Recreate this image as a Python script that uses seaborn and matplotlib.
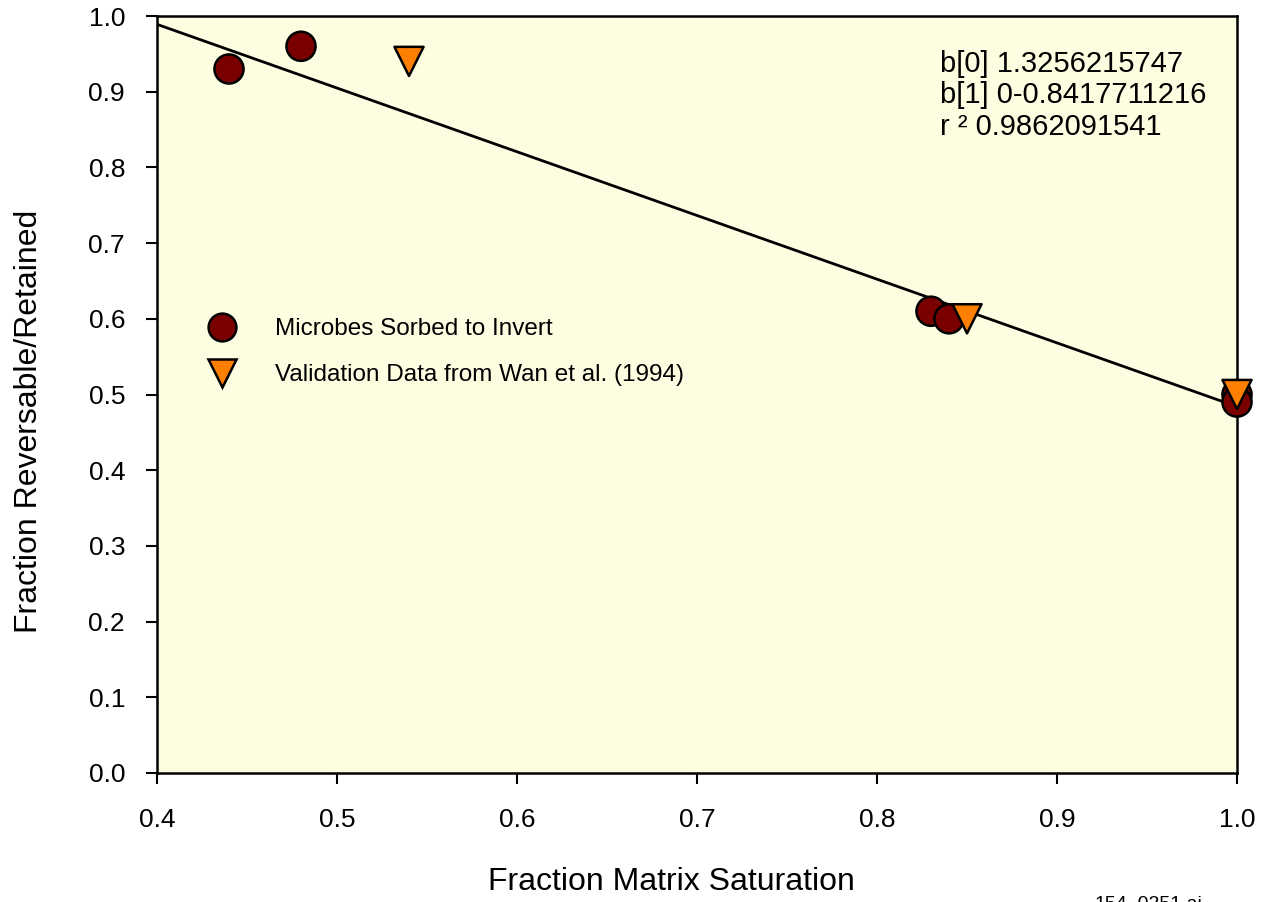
import pandas as pd
import matplotlib
matplotlib.use("Agg")
import matplotlib.pyplot as plt
import seaborn as sns

# data
microbe_x = [0.44, 0.48, 0.83, 0.84, 1.0, 1.0]
microbe_y = [0.93, 0.96, 0.61, 0.60, 0.50, 0.49]
wan_x = [0.54, 0.85, 1.0]
wan_y = [0.94, 0.60, 0.50]
fit_x = [0.4, 1.0]
fit_y = [0.989, 0.484]
series_names = ["Microbes Sorbed to Invert", "Validation Data from Wan et al. (1994)"]
fit_text = "b[0] 1.3256215747\nb[1] 0-0.8417711216\nr \u00b2 0.9862091541"
x_ticks = [0.4, 0.5, 0.6, 0.7, 0.8, 0.9, 1.0]
y_ticks = [0.0, 0.1, 0.2, 0.3, 0.4, 0.5, 0.6, 0.7, 0.8, 0.9, 1.0]

df = pd.DataFrame({
    "x": microbe_x + wan_x,
    "y": microbe_y + wan_y,
    "series": [series_names[0]] * len(microbe_x) + [series_names[1]] * len(wan_x),
})

sns.set_theme(style="ticks")
plt.rcParams["font.family"] = ["Liberation Sans", "DejaVu Sans"]
plt.rcParams["text.color"] = "black"
plt.rcParams["axes.labelcolor"] = "black"
plt.rcParams["xtick.color"] = "black"
plt.rcParams["ytick.color"] = "black"

fig = plt.figure(figsize=(12.65, 9.02), dpi=100)
ax = fig.add_axes([157 / 1265, 1 - 773 / 902, 1080 / 1265, 757 / 902])
ax.set_facecolor("#FDFDE1")

# fit line
sns.lineplot(x=fit_x, y=fit_y, color="black", linewidth=2.0, ax=ax, zorder=3)

palette = {series_names[0]: "#7A0000", series_names[1]: "#FF8000"}
markers = {series_names[0]: "o", series_names[1]: "v"}
sns.scatterplot(data=df, x="x", y="y", hue="series", style="series",
                palette=palette, markers=markers, s=440,
                edgecolor="black", linewidth=1.8, ax=ax, zorder=4)
for c in ax.collections:
    c.set_clip_on(False)

ax.set_xlim(0.4, 1.0)
ax.set_ylim(0.0, 1.0)
ax.set_xticks(x_ticks)
ax.set_yticks(y_ticks)
ax.set_xticklabels([f"{v:.1f}" for v in x_ticks])
ax.set_yticklabels([f"{v:.1f}" for v in y_ticks])
ax.tick_params(axis="both", direction="out", length=8, width=1.5, colors="black", labelsize=19)
ax.tick_params(axis="x", pad=17)
ax.tick_params(axis="y", pad=15)
for sp in ax.spines.values():
    sp.set_visible(True)
    sp.set_color("black")
    sp.set_linewidth(1.8)

ax.set_xlabel("Fraction Matrix Saturation", fontsize=23, color="black")
ax.set_ylabel("Fraction Reversable/Retained", fontsize=23, color="black")
ax.xaxis.set_label_coords(0.476, -0.124)
ax.yaxis.set_label_coords(-0.105, 0.465)

handles, labels = ax.get_legend_handles_labels()
for h in handles:
    h.set_markersize(20)
    h.set_markeredgewidth(1.8)
    h.set_markeredgecolor("black")
ax.legend(handles, labels, loc="upper left", bbox_to_anchor=(0.038, 0.601),
          frameon=False, fontsize=17.5, handletextpad=1.15, labelspacing=1.0,
          borderaxespad=0, borderpad=0)

ax.text(0.725, 0.955, fit_text, transform=ax.transAxes, fontsize=21,
        ha="left", va="top", linespacing=1.15, color="black")

fig.text(1095 / 1265, 6 / 902, "154_0251.ai", fontsize=14, ha="left", va="top")

fig.savefig("out.png", dpi=100)
